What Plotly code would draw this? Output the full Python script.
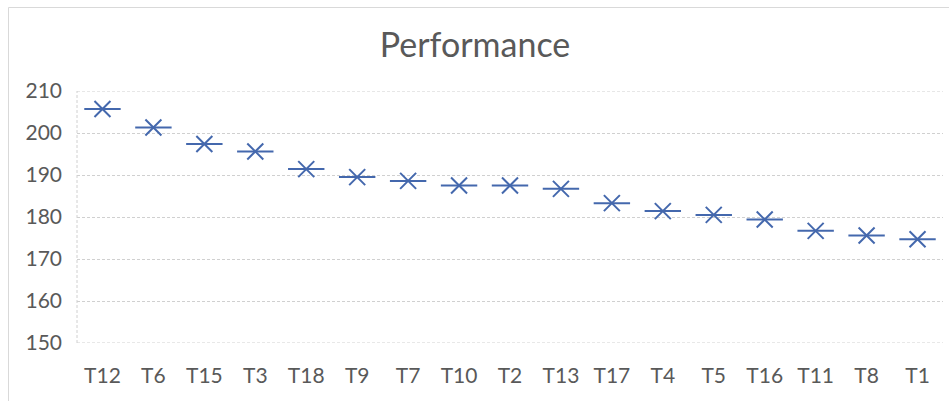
import plotly.graph_objects as go

categories = ["T12", "T6", "T15", "T3", "T18", "T9", "T7", "T10", "T2", "T13",
              "T17", "T4", "T5", "T16", "T11", "T8", "T1"]
performance = [205.7, 201.3, 197.4, 195.6, 191.4, 189.5, 188.6, 187.5, 187.5, 186.7,
               183.3, 181.4, 180.5, 179.4, 176.7, 175.6, 174.7]
y_ticks = [150, 160, 170, 180, 190, 200, 210]

marker_color = "#4468ad"
text_color = "#595959"
grid_color = "#d0d0d0"
font_family = "Lato, 'Open Sans', sans-serif"

fig = go.Figure()
fig.add_trace(go.Scatter(
    x=categories, y=performance, mode="markers",
    marker=dict(symbol="x-thin", size=16, line=dict(color=marker_color, width=2)),
    showlegend=False, hoverinfo="skip"))
fig.add_trace(go.Scatter(
    x=categories, y=performance, mode="markers",
    marker=dict(symbol="line-ew", size=26, line=dict(color=marker_color, width=2)),
    showlegend=False))

edge_lines = [
    dict(type="line", xref="paper", yref="y", x0=0, x1=1, y0=v, y1=v,
         line=dict(color=grid_color, width=1, dash="3px,2px"), layer="below")
    for v in (y_ticks[0], y_ticks[-1])
]

fig.update_layout(
    width=950, height=401,
    margin=dict(l=77, r=7, t=91, b=58),
    paper_bgcolor="white", plot_bgcolor="white",
    title=dict(text="Performance", x=0.5, xanchor="center", y=1 - 45 / 401, yanchor="middle",
               font=dict(family=font_family, size=34, color=text_color)),
    font=dict(family=font_family, color=text_color),
    xaxis=dict(type="category", range=[-0.5, len(categories) - 0.5], showgrid=False,
               zeroline=False, showline=False, ticks="",
               tickfont=dict(size=21, color=text_color), ticklabelstandoff=18),
    yaxis=dict(range=[150, 210], tickvals=y_ticks, showgrid=True, gridcolor=grid_color,
               griddash="3px,2px", gridwidth=1, zeroline=False, showline=False, ticks="",
               tickfont=dict(size=21, color=text_color), ticklabelstandoff=14),
    shapes=edge_lines + [
        dict(type="line", xref="paper", yref="paper", x0=0, x1=0, y0=0, y1=1,
             line=dict(color=grid_color, width=1, dash="3px,2px"), layer="below"),
        dict(type="line", xref="paper", yref="paper",
             x0=(8.5 - 77) / 866, x1=(8.5 - 77) / 866,
             y0=(343 - 430) / 252, y1=(343 - 7.5) / 252,
             line=dict(color="#d9d9d9", width=1), layer="below"),
        dict(type="line", xref="paper", yref="paper",
             x0=(8.5 - 77) / 866, x1=(949 - 77) / 866,
             y0=(343 - 7.5) / 252, y1=(343 - 7.5) / 252,
             line=dict(color="#d9d9d9", width=1), layer="below"),
    ],
)

fig.write_html("out.html")
